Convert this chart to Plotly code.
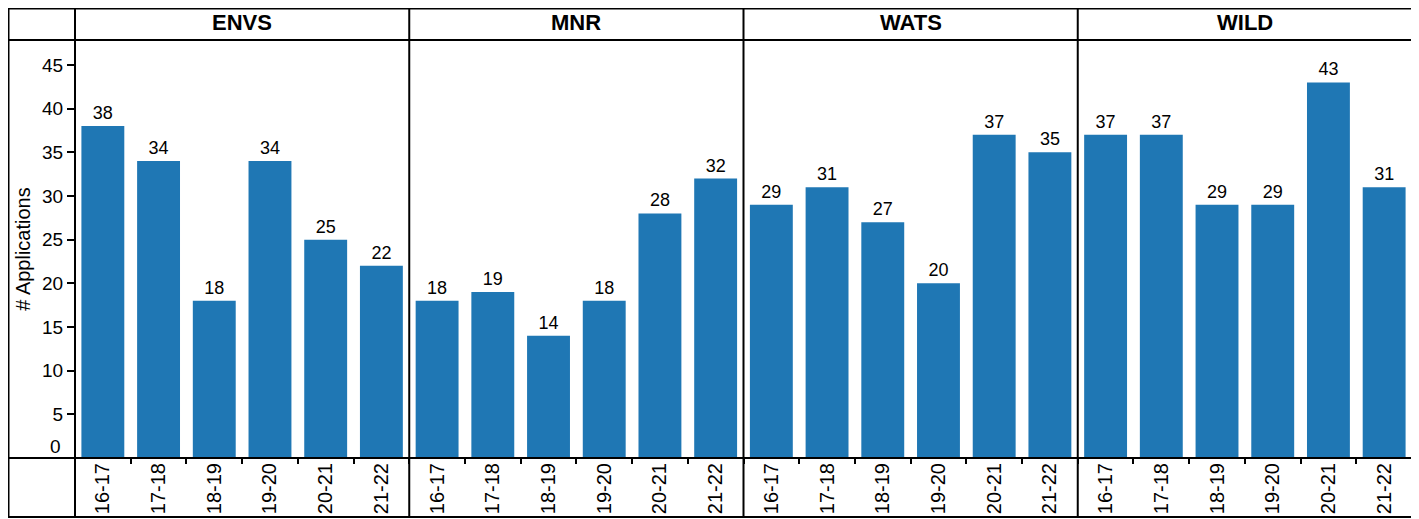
import plotly.graph_objects as go

# Applications per programme and academic year
programs = ["ENVS", "MNR", "WATS", "WILD"]
years = ["16-17", "17-18", "18-19", "19-20", "20-21", "21-22"]
envs = [38, 34, 18, 34, 25, 22]
mnr = [18, 19, 14, 18, 28, 32]
wats = [29, 31, 27, 20, 37, 35]
wild = [37, 37, 29, 29, 43, 31]
y_ticks = [5, 10, 15, 20, 25, 30, 35, 40, 45]

values = [envs, mnr, wats, wild]

# the page adds an 8px body margin, so the figure is laid out 8px up/left
W, H = 1405, 511
L, R, T, B = 67, 1, 32, 61
pw, ph = W - L - R, H - T - B

def px(x):
    return (x - L) / pw

def py(y):
    return (H - B - y) / ph

font = "Liberation Sans, Arial, sans-serif"
fig = go.Figure()

n = len(programs)
for i, (prog, vals) in enumerate(zip(programs, values)):
    xa = "x" if i == 0 else f"x{i+1}"
    fig.add_trace(go.Bar(
        x=years, y=vals, xaxis=xa, yaxis="y",
        marker=dict(color="#1f77b4", line=dict(width=0)),
        text=vals, textposition="outside",
        textfont=dict(size=18, color="black", family=font),
        cliponaxis=False, width=0.77, showlegend=False,
    ))
    axkey = "xaxis" if i == 0 else f"xaxis{i+1}"
    fig.layout[axkey] = dict(
        domain=[i / n, (i + 1) / n], anchor="y",
        tickangle=-90, tickfont=dict(size=20, family=font, color="black"),
        ticks="outside", ticklen=5, tickcolor="black", tickwidth=1.5,
        tickson="boundaries",
        showline=False, showgrid=False, fixedrange=True,
    )
    # facet header
    fig.add_annotation(
        x=(i + 0.5) / n, y=py(15), xref="paper", yref="paper",
        xanchor="center", yanchor="middle",
        text=f"<b>{prog}</b>", showarrow=False,
        font=dict(size=22, family=font, color="black"),
    )

fig.update_layout(
    width=W, height=H,
    margin=dict(l=L, r=R, t=T, b=B),
    paper_bgcolor="white", plot_bgcolor="white",
    font=dict(family=font, color="black"),
    yaxis=dict(
        range=[0, 47.86], tickvals=y_ticks,
        ticks="outside", ticklen=7, tickcolor="black", tickwidth=1.5,
        tickfont=dict(size=19, family=font, color="black"),
        showgrid=False, zeroline=False, showline=False,
        title=dict(text="# Applications", font=dict(size=20, family=font), standoff=6),
    ),
    bargap=0.23,
)

# zero label sits above the baseline without a tick
fig.add_annotation(
    x=0, y=0, xref="paper", yref="y", text="0", showarrow=False,
    xanchor="right", yanchor="middle", xshift=-12, yshift=12,
    font=dict(size=19, family=font, color="black"),
)

# frame: outer border, header/footer rules, column separators
line = dict(color="black", width=2)
shapes = [
    dict(type="rect", xref="paper", yref="paper",
         x0=px(0.5), x1=px(1404), y0=py(509), y1=py(0.5), line=line),
    dict(type="line", xref="paper", yref="paper",
         x0=px(0.5), x1=px(1404), y0=1, y1=1, line=line),
    dict(type="line", xref="paper", yref="paper",
         x0=px(0.5), x1=px(1404), y0=0, y1=0, line=line),
]
for i in range(n):
    shapes.append(dict(type="line", xref="paper", yref="paper",
                       x0=i / n, x1=i / n, y0=py(509), y1=py(0.5), line=line))
fig.update_layout(shapes=shapes)

fig.write_html("out.html")
